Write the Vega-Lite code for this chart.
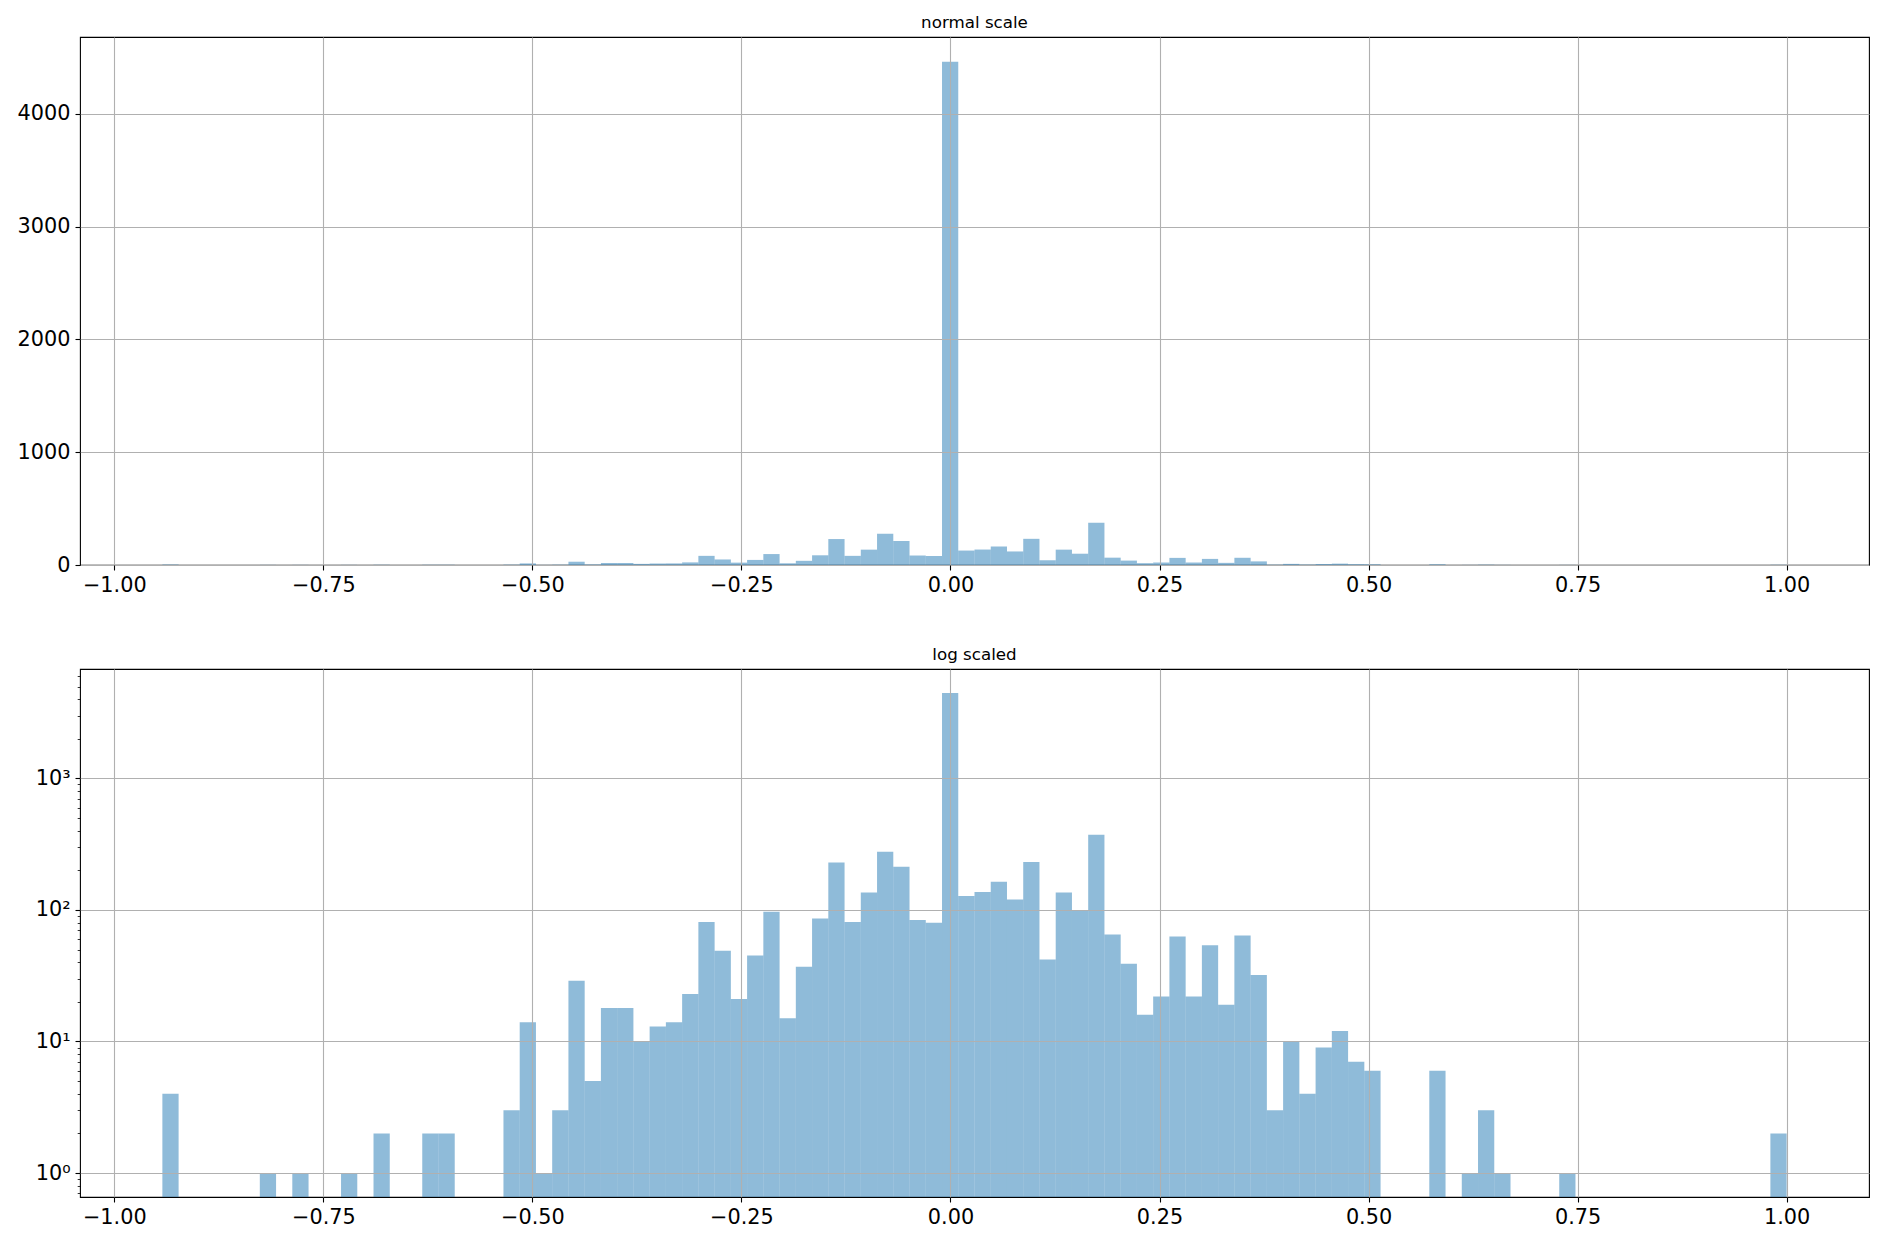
{
  "$schema": "https://vega.github.io/schema/vega-lite/v6.json",
  "padding": {"left": 9, "top": 14, "right": 5, "bottom": 5},
  "background": "white",
  "spacing": 45,
  "datasets": {
    "hist": [
      {"x0": -0.9425, "x1": -0.923075, "count": 4},
      {"x0": -0.82595, "x1": -0.806525, "count": 1},
      {"x0": -0.7871, "x1": -0.767675, "count": 1},
      {"x0": -0.728825, "x1": -0.7094, "count": 1},
      {"x0": -0.689975, "x1": -0.67055, "count": 2},
      {"x0": -0.6317, "x1": -0.612275, "count": 2},
      {"x0": -0.612275, "x1": -0.59285, "count": 2},
      {"x0": -0.534575, "x1": -0.51515, "count": 3},
      {"x0": -0.51515, "x1": -0.495725, "count": 14},
      {"x0": -0.495725, "x1": -0.4763, "count": 1},
      {"x0": -0.4763, "x1": -0.456875, "count": 3},
      {"x0": -0.456875, "x1": -0.43745, "count": 29},
      {"x0": -0.43745, "x1": -0.418025, "count": 5},
      {"x0": -0.418025, "x1": -0.3986, "count": 18},
      {"x0": -0.3986, "x1": -0.379175, "count": 18},
      {"x0": -0.379175, "x1": -0.35975, "count": 10},
      {"x0": -0.35975, "x1": -0.340325, "count": 13},
      {"x0": -0.340325, "x1": -0.3209, "count": 14},
      {"x0": -0.3209, "x1": -0.301475, "count": 23},
      {"x0": -0.301475, "x1": -0.28205, "count": 81},
      {"x0": -0.28205, "x1": -0.262625, "count": 49},
      {"x0": -0.262625, "x1": -0.2432, "count": 21},
      {"x0": -0.2432, "x1": -0.223775, "count": 45},
      {"x0": -0.223775, "x1": -0.20435, "count": 97},
      {"x0": -0.20435, "x1": -0.184925, "count": 15},
      {"x0": -0.184925, "x1": -0.1655, "count": 37},
      {"x0": -0.1655, "x1": -0.146075, "count": 86},
      {"x0": -0.146075, "x1": -0.12665, "count": 230},
      {"x0": -0.12665, "x1": -0.107225, "count": 81},
      {"x0": -0.107225, "x1": -0.0878, "count": 136},
      {"x0": -0.0878, "x1": -0.068375, "count": 277},
      {"x0": -0.068375, "x1": -0.04895, "count": 213},
      {"x0": -0.04895, "x1": -0.029525, "count": 84},
      {"x0": -0.029525, "x1": -0.0101, "count": 80},
      {"x0": -0.0101, "x1": 0.009325, "count": 4460},
      {"x0": 0.009325, "x1": 0.02875, "count": 128},
      {"x0": 0.02875, "x1": 0.048175, "count": 137},
      {"x0": 0.048175, "x1": 0.0676, "count": 164},
      {"x0": 0.0676, "x1": 0.087025, "count": 120},
      {"x0": 0.087025, "x1": 0.10645, "count": 232},
      {"x0": 0.10645, "x1": 0.125875, "count": 42},
      {"x0": 0.125875, "x1": 0.1453, "count": 136},
      {"x0": 0.1453, "x1": 0.164725, "count": 100},
      {"x0": 0.164725, "x1": 0.18415, "count": 374},
      {"x0": 0.18415, "x1": 0.203575, "count": 65},
      {"x0": 0.203575, "x1": 0.223, "count": 39},
      {"x0": 0.223, "x1": 0.242425, "count": 16},
      {"x0": 0.242425, "x1": 0.26185, "count": 22},
      {"x0": 0.26185, "x1": 0.281275, "count": 63},
      {"x0": 0.281275, "x1": 0.3007, "count": 22},
      {"x0": 0.3007, "x1": 0.320125, "count": 54},
      {"x0": 0.320125, "x1": 0.33955, "count": 19},
      {"x0": 0.33955, "x1": 0.358975, "count": 64},
      {"x0": 0.358975, "x1": 0.3784, "count": 32},
      {"x0": 0.3784, "x1": 0.397825, "count": 3},
      {"x0": 0.397825, "x1": 0.41725, "count": 10},
      {"x0": 0.41725, "x1": 0.436675, "count": 4},
      {"x0": 0.436675, "x1": 0.4561, "count": 9},
      {"x0": 0.4561, "x1": 0.475525, "count": 12},
      {"x0": 0.475525, "x1": 0.49495, "count": 7},
      {"x0": 0.49495, "x1": 0.514375, "count": 6},
      {"x0": 0.57265, "x1": 0.592075, "count": 6},
      {"x0": 0.6115, "x1": 0.630925, "count": 1},
      {"x0": 0.630925, "x1": 0.65035, "count": 3},
      {"x0": 0.65035, "x1": 0.669775, "count": 1},
      {"x0": 0.72805, "x1": 0.747475, "count": 1},
      {"x0": 0.980575, "x1": 1.0, "count": 2}
    ]
  },
  "config": {
    "view": {"stroke": "black", "strokeWidth": 1.1},
    "axis": {
      "labelFont": "DejaVu Sans", "labelFontSize": 20.8, "labelColor": "black",
      "tickColor": "black", "tickSize": 5, "tickWidth": 1.1, "labelPadding": 5,
      "domain": false, "gridColor": "#b0b0b0", "gridWidth": 1.1, "gridOpacity": 1,
      "title": null
    },
    "title": {"font": "DejaVu Sans", "fontSize": 16.7, "fontWeight": "normal", "color": "black", "offset": 5, "anchor": "middle", "frame": "group"}
  },
  "vconcat": [
    {
      "title": "normal scale",
      "width": 1789,
      "height": 528,
      "data": {"name": "hist"},
      "mark": {"type": "bar", "color": "#1f77b4", "opacity": 0.5},
      "encoding": {
        "x": {"field": "x0", "type": "quantitative",
          "scale": {"domain": [-1.041, 1.0985], "nice": false, "zero": false},
          "axis": {"values": [-1, -0.75, -0.5, -0.25, 0, 0.25, 0.5, 0.75, 1], "format": ".2f", "minExtent": 35, "maxExtent": 35, "grid": true, "zindex": 1}},
        "x2": {"field": "x1"},
        "y": {"field": "count", "type": "quantitative",
          "scale": {"domain": [0, 4680], "nice": false},
          "axis": {"values": [0, 1000, 2000, 3000, 4000], "format": "d", "minExtent": 70, "maxExtent": 70, "grid": true, "zindex": 1}},
        "y2": {"datum": 0}
      }
    },
    {
      "title": "log scaled",
      "width": 1789,
      "height": 528,
      "data": {"name": "hist"},
      "encoding": {
        "x": {"field": "x0", "type": "quantitative",
          "scale": {"domain": [-1.041, 1.0985], "nice": false, "zero": false},
          "axis": {"values": [-1, -0.75, -0.5, -0.25, 0, 0.25, 0.5, 0.75, 1], "format": ".2f", "minExtent": 35, "maxExtent": 35, "grid": true, "zindex": 1}},
        "x2": {"field": "x1"},
        "y2": {"datum": 0.657}
      },
      "layer": [
        {
          "mark": {"type": "bar", "color": "#1f77b4", "opacity": 0.5, "clip": true},
          "encoding": {
            "y": {"field": "count", "type": "quantitative",
              "scale": {"type": "log", "domain": [0.657, 6800], "nice": false},
              "axis": {"values": [1, 10, 100, 1000], "orient": "left", "minExtent": 70, "maxExtent": 70, "grid": true, "zindex": 1,
                "labelExpr": "datum.value == 1 ? '10⁰' : datum.value == 10 ? '10¹' : datum.value == 100 ? '10²' : '10³'"}}
          }
        },
        {
          "mark": {"type": "bar", "opacity": 0},
          "encoding": {
            "y": {"field": "count", "type": "quantitative",
              "scale": {"type": "log", "domain": [0.657, 6800], "nice": false},
              "axis": {"values": [0.7, 0.8, 0.9, 2, 3, 4, 5, 6, 7, 8, 9, 20, 30, 40, 50, 60, 70, 80, 90, 200, 300, 400, 500, 600, 700, 800, 900, 2000, 3000, 4000, 5000, 6000],
                "orient": "left", "labels": false, "grid": false, "tickSize": 2.8, "tickWidth": 0.8, "minExtent": 70, "maxExtent": 70, "zindex": 1}}
          }
        }
      ],
      "resolve": {"axis": {"y": "independent"}}
    }
  ]
}
